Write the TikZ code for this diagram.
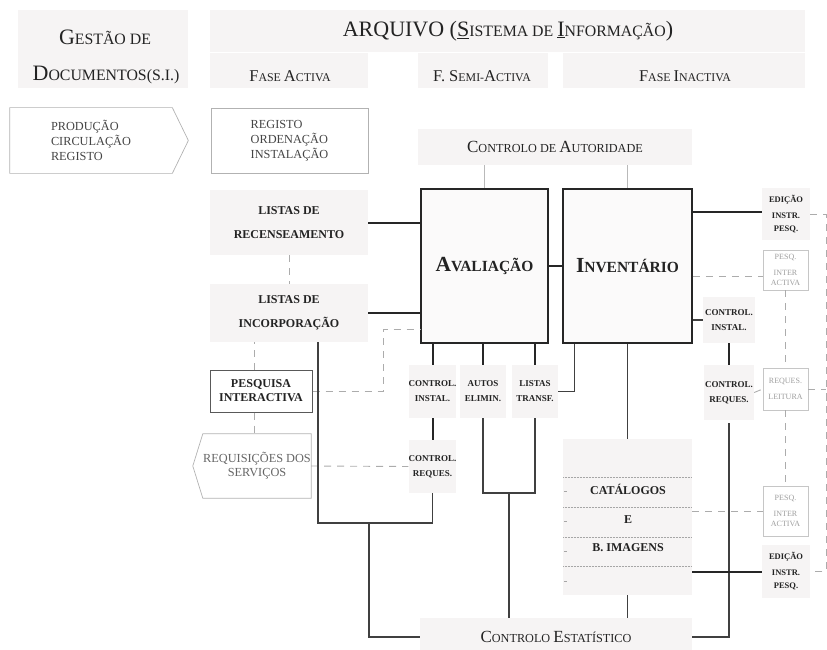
\documentclass[tikz,border=0pt]{standalone}
\usepackage{fontspec}
\setmainfont{Liberation Serif}
\usepackage{xcolor}
\usetikzlibrary{calc}
\definecolor{bandc}{RGB}{246,244,244}
\definecolor{inkc}{RGB}{35,35,35}
\makeatletter
\newcommand\sm[1]{{\fontsize{\fpeval{0.72*\f@size}}{\f@baselineskip}\selectfont #1}}
\makeatother
\tikzset{
  band/.style  ={rectangle, fill=bandc, draw=none, inner sep=0pt, align=center, text=inkc},
  gbox/.style  ={rectangle, draw=gray!60, line width=0.7pt, inner sep=0pt, align=left,
                 text=inkc!85, font=\fontsize{12.3}{15}\selectfont},
  bigbox/.style={rectangle, draw=black!85, line width=1.8pt, fill=bandc!45, inner sep=0pt,
                 text=inkc, font=\fontsize{21.5}{21.5}\selectfont\bfseries},
  lbl/.style   ={band, font=\fontsize{9}{15}\selectfont\bfseries},
  pbox/.style  ={rectangle, draw=gray!45, line width=0.6pt, fill=white, inner sep=0pt,
                 align=center, text=gray!75, font=\fontsize{8}{10}\selectfont},
  ln/.style    ={line width=1.1pt, draw=black!75},
  thk/.style   ={line width=2pt, draw=black!85},
  dsh/.style   ={line width=0.9pt, draw=gray!65, dash pattern=on 7pt off 6pt},
}

\begin{document}
\begin{tikzpicture}[x=1pt, y=-1pt,
  hd/.style={inner sep=0pt, text=inkc, font=\fontsize{22}{22}\selectfont},
  ph/.style={inner sep=0pt, text=inkc, font=\fontsize{16.5}{16.5}\selectfont},
  big/.style={band, font=\fontsize{12}{24}\selectfont\bfseries}]
  \useasboundingbox (0,0) rectangle (827,650);

  % header bands
  \node[band, minimum width=170pt, minimum height=78pt] (bgGest) at (103,49) {};
  \node[band, minimum width=595pt, minimum height=42pt] (bgArq) at (507.5,31) {};
  \node[band, minimum width=158pt, minimum height=35pt] (bgAct) at (289,71) {};
  \node[band, minimum width=130pt, minimum height=35pt] (bgSemi) at (483,71) {};
  \node[band, minimum width=242pt, minimum height=35pt] (bgInact) at (684,71) {};

  \node[hd] (gest1) at (105,37) {G\sm{ESTÃO DE}};
  \node[hd] (gest2) at (106,75) {D\sm{OCUMENTOS(S.I.)}};
  \node[hd] (title) at (508,31) {ARQUIVO (\underline{S}\sm{ISTEMA DE }\underline{I}\sm{NFORMAÇÃO})};
  \node[ph] (fase1) at (290,76) {F\sm{ASE }A\sm{CTIVA}};
  \node[ph] (fase2) at (482,76) {F. S\sm{EMI-}A\sm{CTIVA}};
  \node[ph] (fase3) at (685,76) {F\sm{ASE }I\sm{NACTIVA}};

  % process boxes
  \node[gbox, draw=none, minimum width=162pt, minimum height=65pt] (prod) at (91,140.5)
    {PRODUÇÃO\\CIRCULAÇÃO\\REGISTO};
  \draw[gray!60, line width=0.7pt] (prod.north west) -- (prod.north east) -- ([xshift=16pt]prod.east)
    -- (prod.south east) -- (prod.south west) -- cycle;
  \node[gbox, minimum width=157pt, minimum height=65pt] (reg) at (289.5,140.5)
    {REGISTO\\ORDENAÇÃO\\INSTALAÇÃO};

  \node[band, minimum width=274pt, minimum height=36pt, font=\fontsize{17}{17}\selectfont]
    (autor) at (555,147) {C\sm{ONTROLO DE }A\sm{UTORIDADE}};

  % main blocks
  \node[bigbox, minimum width=127pt, minimum height=154pt] (aval) at (484.5,266) {A\sm{VALIAÇÃO}};
  \node[bigbox, minimum width=129pt, minimum height=154pt] (inv) at (627.5,266) {I\sm{NVENTÁRIO}};

  % left column
  \node[big, minimum width=158pt, minimum height=65pt] (listrec) at (289,222.5) {LISTAS DE\\RECENSEAMENTO};
  \node[big, minimum width=158pt, minimum height=58pt] (listinc) at (289,313) {LISTAS DE\\INCORPORAÇÃO};
  \node[rectangle, draw=black!65, line width=1pt, minimum width=102pt, minimum height=42pt,
        align=center, text=inkc, font=\fontsize{12}{14}\selectfont\bfseries] (pesq) at (261,391)
    {PESQUISA\\INTERACTIVA};
  \node[rectangle, inner sep=0pt, minimum width=108pt, minimum height=64pt, align=center,
        text=inkc!70, font=\fontsize{12.3}{14}\selectfont] (requis) at (257,466)
    {REQUISIÇÕES DOS\\SERVIÇOS};
  \draw[gray!60, line width=0.7pt] (requis.north east) -- (requis.north west) -- ([xshift=-10pt]requis.west)
    -- (requis.south west) -- (requis.south east) -- cycle;

  % labels under Avaliação
  \node[lbl, minimum width=45pt, minimum height=53pt] (ctrlinst) at (432.5,391.5) {CONTROL.\\INSTAL.};
  \node[lbl, minimum width=46pt, minimum height=53pt] (autos) at (483,391.5) {AUTOS\\ELIMIN.};
  \node[lbl, minimum width=46pt, minimum height=53pt] (listr) at (535,391.5) {LISTAS\\TRANSF.};
  \node[lbl, minimum width=45pt, minimum height=53pt] (ctrlreq) at (432.5,466.5) {CONTROL.\\REQUES.};

  % catalogues
  \node[band, minimum width=129pt, minimum height=156pt] (catal) at (627.5,517) {};
  \foreach \y in {477,507,537,566}
    \draw[gray!70, line width=0.5pt, densely dotted] (563,\y) -- (691,\y);
  \foreach \y in {491,521,551,581}
    \draw[gray!70, line width=0.5pt] (564,\y) -- (567,\y);
  \node[inner sep=0pt, text=inkc, font=\fontsize{12}{12}\selectfont\bfseries] (catA) at (628,489) {CATÁLOGOS};
  \node[inner sep=0pt, text=inkc, font=\fontsize{12}{12}\selectfont\bfseries] (catE) at (628,520) {E};
  \node[inner sep=0pt, text=inkc, font=\fontsize{12}{12}\selectfont\bfseries] (catB) at (628,548) {B. IMAGENS};

  \node[band, minimum width=272pt, minimum height=38pt, font=\fontsize{17}{17}\selectfont]
    (estat) at (556,637) {C\sm{ONTROLO }E\sm{STATÍSTICO}};

  % right column
  \node[lbl, minimum width=48pt, minimum height=52pt, font=\fontsize{8.5}{13}\selectfont\bfseries]
    (edic1) at (786,214) {EDIÇÃO\\[3pt]INSTR.\\PESQ.};
  \node[pbox, minimum width=45pt, minimum height=40pt] (pesq1) at (785.5,270) {PESQ.\\[6pt]INTER\\ACTIVA};
  \node[lbl, minimum width=52pt, minimum height=46pt] (ctrlinst2) at (729,320) {CONTROL.\\INSTAL.};
  \node[lbl, minimum width=50pt, minimum height=55pt] (ctrlreq2) at (729,392.5) {CONTROL.\\REQUES.};
  \node[pbox, minimum width=45pt, minimum height=42pt] (requ) at (785.5,389) {REQUES.\\[6pt]LEITURA};
  \node[pbox, minimum width=45pt, minimum height=50pt] (pesq2) at (785.5,511) {PESQ.\\[6pt]INTER\\ACTIVA};
  \node[lbl, minimum width=48pt, minimum height=53pt, font=\fontsize{8.5}{13}\selectfont\bfseries]
    (edic2) at (786,571.5) {EDIÇÃO\\[3pt]INSTR.\\PESQ.};

  % connectors
  \draw[gray!55, line width=0.5pt] (autor.south -| aval.north) -- (aval.north);
  \draw[gray!55, line width=0.5pt] (autor.south -| inv.north) -- (inv.north);
  \draw[thk] (aval) -- (inv);
  \draw[thk] (listrec.east) -- (listrec.east -| aval.west);
  \draw[thk] (listinc.east) -- (listinc.east -| aval.west);
  \draw[dsh] (listrec) -- (listinc);
  \draw[dsh] ([xshift=-7pt]pesq.north) -- ([xshift=-7pt]pesq.north |- listinc.south);
  \draw[dsh] ([xshift=-7pt]pesq.south) -- ([xshift=-7pt]pesq.south |- requis.north);
  \coordinate (pk) at (383,329);
  \draw[dsh] (pesq.east) -| (pk) -- (pk -| aval.west);
  \draw[dsh] (requis.east) -- (ctrlreq.west);
  \coordinate (tapL) at (318,342);
  \coordinate (jL) at (369,523);
  \draw[ln] (tapL) |- (jL) -| (ctrlreq.south);
  \draw[ln] (jL) |- (estat.west);
  \foreach \n in {ctrlinst,autos,listr}
    \draw[thk] (\n.north |- aval.south) -- (\n.north);
  \draw[thk] (ctrlinst) -- (ctrlreq);
  \coordinate (jM) at (509,493);
  \draw[ln] (autos.south) |- (jM) -| (listr.south);
  \draw[ln] (jM) -- (jM |- estat.north);
  \draw[ln] (listr.east) -| ([xshift=12pt]inv.south west);
  \draw[ln] (inv) -- (catal);
  \draw[ln] (catal.south) -- (catal.south |- estat.north);

  \draw[thk] ([yshift=2pt]edic1.west -| inv.east) -- ([yshift=2pt]edic1.west);
  \draw[dsh] ([yshift=-6pt]pesq1.west -| inv.east) -- ([yshift=-6pt]pesq1.west);
  \draw[ln] (ctrlinst2.west -| inv.east) -- (ctrlinst2.west);
  \draw[thk] (ctrlinst2) -- (ctrlreq2);
  \draw[dsh] (pesq1) -- (requ);
  \draw[dsh] (requ) -- (pesq2);
  \draw[dsh] (ctrlreq2.east) -- (requ.west);
  \coordinate (rcol) at (826,400);
  \draw[dsh] (edic1.east) -| (rcol) |- (edic2.east);
  \draw[dsh] (requ.east) -- (requ.east -| rcol);
  \draw[dsh] (pesq2.west -| catal.east) -- (pesq2.west);
  \draw[ln] ([yshift=-3pt]ctrlreq2.south) |- (estat.east);
  \draw[thk] (edic2.west -| catal.east) -- (edic2.west);
\end{tikzpicture}
\end{document}
